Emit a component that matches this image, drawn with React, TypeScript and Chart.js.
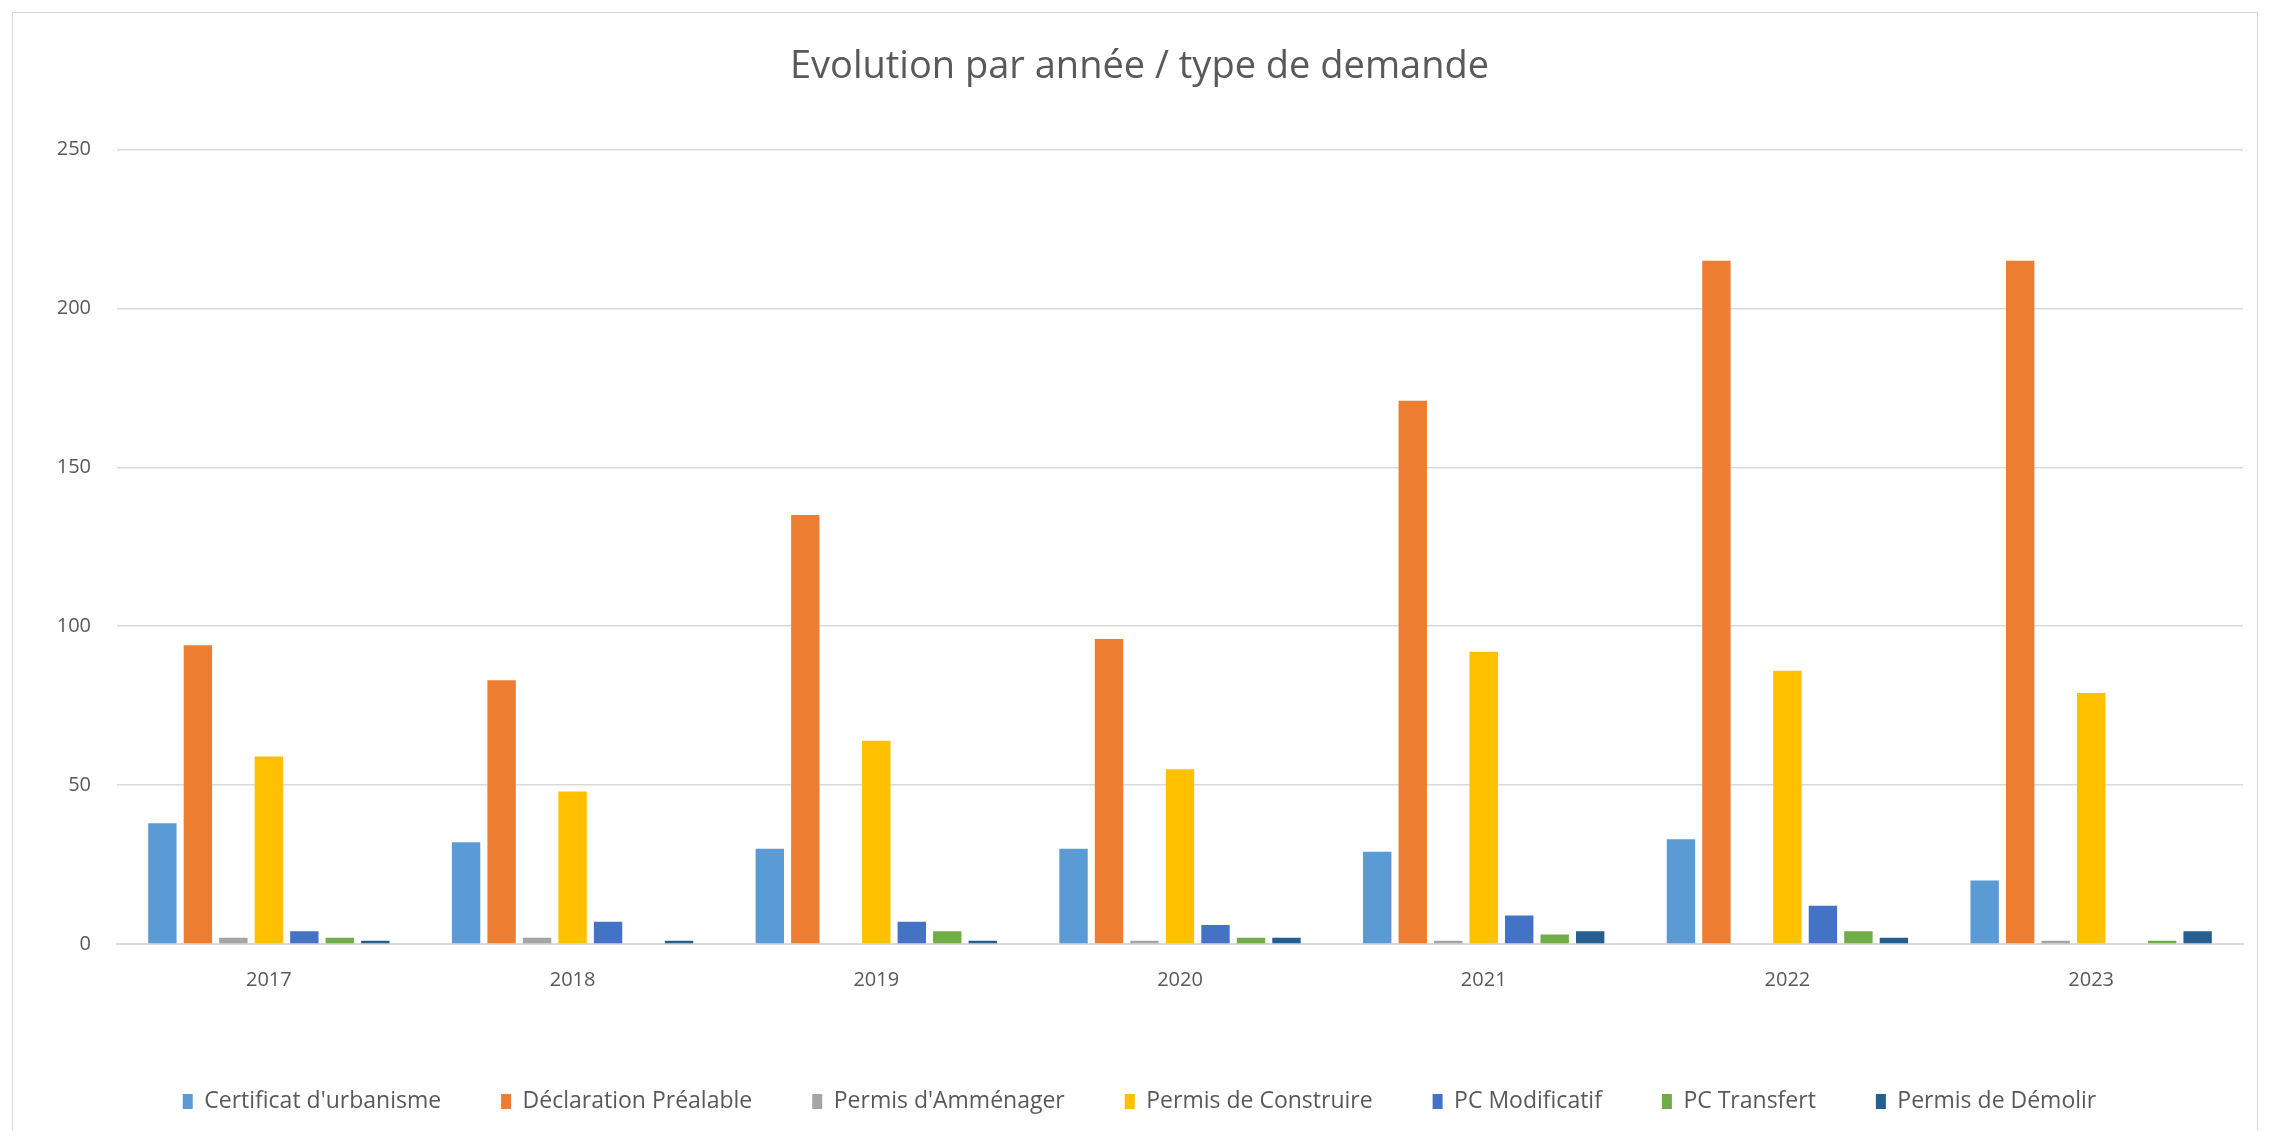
import React, { useEffect, useRef } from "react";
import { Chart, registerables } from "chart.js";

Chart.register(...registerables);

const years = ["2017", "2018", "2019", "2020", "2021", "2022", "2023"];
const seriesLabels = [
  "Certificat d'urbanisme",
  "Déclaration Préalable",
  "Permis d'Amménager",
  "Permis de Construire",
  "PC Modificatif",
  "PC Transfert",
  "Permis de Démolir",
];
const certificatUrbanisme = [38, 32, 30, 30, 29, 33, 20];
const declarationPrealable = [94, 83, 135, 96, 171, 215, 215];
const permisAmenager = [2, 2, 0, 1, 1, 0, 1];
const permisConstruire = [59, 48, 64, 55, 92, 86, 79];
const pcModificatif = [4, 7, 7, 6, 9, 12, 0];
const pcTransfert = [2, 0, 4, 2, 3, 4, 1];
const permisDemolir = [1, 1, 1, 2, 4, 2, 4];
const seriesColors = ["#5B9BD5", "#ED7D31", "#A5A5A5", "#FFC000", "#4472C4", "#70AD47", "#255E91"];
const yMin = 0;
const yMax = 250;
const yStep = 50;
const chartTitle = "Evolution par année / type de demande";

const W = 2275;
const H = 1131;

export default function App() {
  const ref = useRef<HTMLCanvasElement | null>(null);

  useEffect(() => {
    if (!ref.current) return;
    const values = [
      certificatUrbanisme,
      declarationPrealable,
      permisAmenager,
      permisConstruire,
      pcModificatif,
      pcTransfert,
      permisDemolir,
    ];
    const font = "'Open Sans', 'Liberation Sans', sans-serif";
    const chart = new Chart(ref.current, {
      type: "bar",
      data: {
        labels: years,
        datasets: values.map((v, i) => ({
          label: seriesLabels[i],
          data: v,
          backgroundColor: seriesColors[i],
          borderWidth: 0,
          barPercentage: 0.8,
          categoryPercentage: 0.818,
        })),
      },
      options: {
        responsive: false,
        animation: false,
        devicePixelRatio: 1,
        layout: { padding: { left: 36, right: 32, top: 0, bottom: 8 } },
        plugins: {
          title: {
            display: true,
            text: chartTitle,
            color: "#595959",
            font: { family: font, size: 38, weight: "normal" },
            padding: { top: 44, bottom: 60 },
          },
          legend: {
            display: true,
            position: "bottom",
            labels: {
              color: "#595959",
              font: { family: font, size: 23 },
              boxWidth: 10,
              boxHeight: 15,
              padding: 60,
            },
          },
          tooltip: { enabled: false },
        },
        scales: {
          x: {
            grid: { display: false, drawTicks: false },
            border: { display: true, color: "#d9d9d9", width: 2 },
            ticks: {
              color: "#595959",
              font: { family: font, size: 20 },
              padding: 24,
            },
            afterFit: (s: any) => {
              s.height = 86;
            },
          },
          y: {
            min: yMin,
            max: yMax,
            grid: { color: "#d9d9d9", lineWidth: 1.5, drawTicks: false },
            border: { display: false },
            ticks: {
              stepSize: yStep,
              color: "#595959",
              font: { family: font, size: 20 },
              padding: 26,
            },
            afterFit: (s: any) => {
              s.width = 81;
            },
          },
        },
      },
    });
    return () => chart.destroy();
  }, []);

  return (
    <div
      style={{
        position: "absolute",
        left: 0,
        top: 0,
        width: W,
        height: H,
        overflow: "hidden",
        background: "#ffffff",
      }}
    >
      <canvas ref={ref} width={W} height={H} style={{ position: "absolute", left: 0, top: 0 }} />
      <div
        style={{
          position: "absolute",
          left: 12,
          top: 12,
          width: 2246,
          height: 1200,
          border: "1.5px solid #d9d9d9",
          boxSizing: "border-box",
          pointerEvents: "none",
        }}
      />
    </div>
  );
}
